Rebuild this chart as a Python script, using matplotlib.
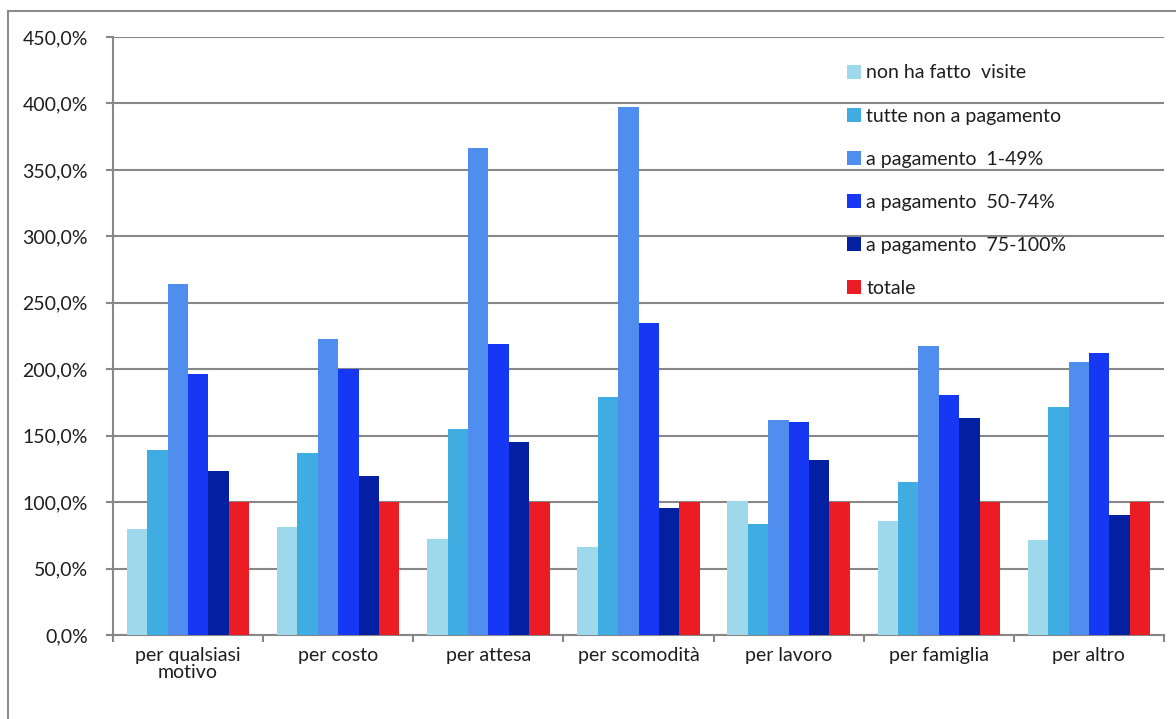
import matplotlib
matplotlib.use("Agg")
import matplotlib.pyplot as plt
from matplotlib.lines import Line2D
from matplotlib.patches import Patch
import numpy as np

categories = ["per qualsiasi\nmotivo", "per costo", "per attesa", "per scomodità",
              "per lavoro", "per famiglia", "per altro"]

series_names = ["non ha fatto  visite", "tutte non a pagamento", "a pagamento  1-49%",
                "a pagamento  50-74%", "a pagamento  75-100%", "totale"]

non_visite = [80, 81.5, 72, 66.5, 100.5, 86, 71.5]
non_pagamento = [139.5, 137, 155, 179, 83.5, 115.5, 171.5]
pag_1_49 = [264, 223, 366.5, 397, 161.5, 217.5, 205.5]
pag_50_74 = [196.5, 200.5, 219, 235, 160.5, 180.5, 212.5]
pag_75_100 = [123.5, 119.5, 145, 95.5, 131.5, 163, 90]
totale = [100, 100, 100, 100, 100, 100, 100]

colors = ["#9DD9EA", "#3FADE2", "#4F8DEF", "#1638F5", "#0320A2", "#EC1C24"]

ytick_values = [0, 50, 100, 150, 200, 250, 300, 350, 400, 450]

fig = plt.figure(figsize=(11.76, 7.19), dpi=100)
ax = fig.add_axes([113 / 1176, 1 - 635 / 719, (1164 - 113) / 1176, (635 - 37) / 719])

text_color = "#1e1e1e"
grid_color = "#878787"
font = "Lato"
fsize = 14

x = np.arange(len(categories))
bar_w = 0.136
all_series = [non_visite, non_pagamento, pag_1_49, pag_50_74, pag_75_100, totale]
for i, (vals, col) in enumerate(zip(all_series, colors)):
    ax.bar(x + (i - 2.5) * bar_w, np.array(vals) / 100, width=bar_w,
           color=col, linewidth=0, zorder=3)

ax.set_xlim(-0.5, len(categories) - 0.5)
ax.set_ylim(0, 4.5)

ax.set_yticks([v / 100 for v in ytick_values])
ax.set_yticklabels([f"{v:.1f}%".replace(".", ",") for v in ytick_values],
                   fontsize=fsize, color=text_color, family=font)
ax.yaxis.grid(True, color=grid_color, linewidth=1.5, zorder=0)
ax.set_axisbelow(True)

ax.set_xticks(np.arange(len(categories) + 1) - 0.5)
ax.set_xticklabels([])
ax.set_xticks(x, minor=True)
ax.set_xticklabels(categories, minor=True, fontsize=fsize, color=text_color,
                   family=font, linespacing=1.0)
ax.tick_params(axis="x", which="minor", length=0, pad=9)
ax.tick_params(axis="x", which="major", length=5, width=1.5, color=grid_color)
ax.tick_params(axis="y", length=5, width=1.5, color=grid_color, pad=13)

for side in ["top", "right"]:
    ax.spines[side].set_visible(False)
for side in ["left", "bottom"]:
    ax.spines[side].set_color(grid_color)
    ax.spines[side].set_linewidth(1.5)

handles = [Patch(facecolor=c, edgecolor="none") for c in colors]
leg = fig.legend(handles, series_names, loc="upper left",
                 bbox_to_anchor=(829 / 1176, 1 - 47 / 719), frameon=False,
                 handlelength=0.72, handleheight=0.72, handletextpad=0.3,
                 labelspacing=1.34, prop={"family": font, "size": fsize})
for t in leg.get_texts():
    t.set_color(text_color)

# outer chart frame
fig.add_artist(Line2D([8 / 1176, 8 / 1176], [0, 1 - 11 / 719],
                      transform=fig.transFigure, color="#8c8c8c", linewidth=1.5))
fig.add_artist(Line2D([8 / 1176, 1], [1 - 11 / 719, 1 - 11 / 719],
                      transform=fig.transFigure, color="#8c8c8c", linewidth=1.5))

fig.savefig("out.png", dpi=100)
